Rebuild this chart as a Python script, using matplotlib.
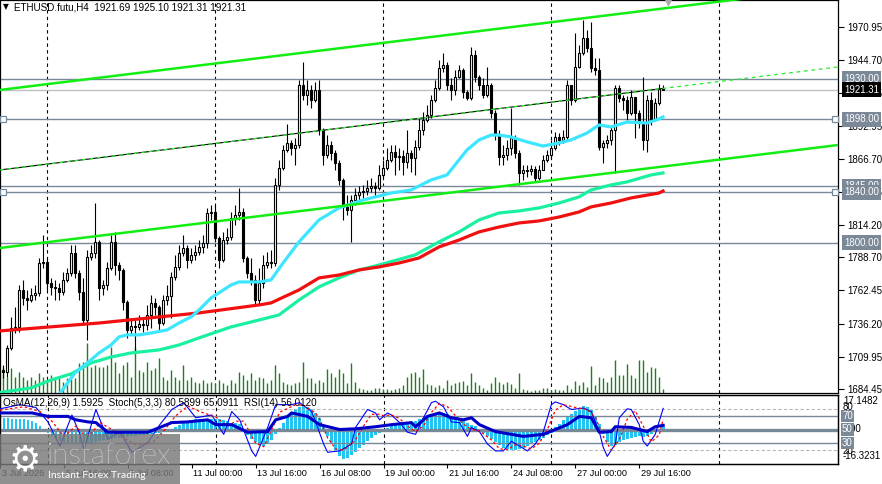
import numpy as np
import matplotlib
matplotlib.use('Agg')
import matplotlib.pyplot as plt
from matplotlib.patches import Rectangle
from matplotlib.transforms import blended_transform_factory

plt.rcParams['font.family'] = ['Liberation Sans', 'DejaVu Sans']
plt.rcParams['font.size'] = 7

# ---- price data (H4 bars, bar 0 = 3 Jul 00:00) ----
first_open = 1687.6
close = [1699.4, 1697.9, 1716.9, 1732.7, 1733.5, 1762.8, 1756.4, 1754.8, 1758.8, 1760.4,
         1784.1, 1784.9, 1768.3, 1765.2, 1764.4, 1761.2, 1770.7, 1776.2, 1792.1, 1776.2,
         1761.2, 1739.0, 1788.9, 1792.1, 1800.8, 1764.4, 1766.7, 1780.2, 1800.8, 1782.5,
         1778.6, 1753.3, 1731.1, 1734.3, 1733.5, 1735.9, 1735.1, 1743.0, 1752.5, 1749.3,
         1736.6, 1754.8, 1758.0, 1773.1, 1781.0, 1792.1, 1796.0, 1786.5, 1790.5, 1792.8,
         1796.8, 1800.0, 1823.7, 1824.5, 1804.0, 1786.5, 1802.3, 1804.7, 1819.8, 1822.1,
         1824.5, 1788.1, 1776.2, 1770.7, 1754.8, 1768.3, 1782.5, 1784.9, 1784.1, 1845.9,
         1859.3, 1873.6, 1879.1, 1875.2, 1877.5, 1925.0, 1917.1, 1921.1, 1913.2, 1921.1,
         1889.4, 1869.6, 1877.5, 1871.2, 1863.3, 1849.8, 1828.5, 1826.1, 1834.0, 1838.0,
         1840.3, 1841.1, 1843.5, 1845.1, 1843.5, 1853.8, 1859.3, 1865.7, 1872.0, 1868.0,
         1868.8, 1864.1, 1871.2, 1867.2, 1876.0, 1889.4, 1897.3, 1901.3, 1913.2, 1922.7,
         1938.5, 1940.9, 1925.0, 1921.1, 1931.3, 1936.9, 1919.5, 1914.7, 1948.8, 1931.3,
         1925.0, 1917.1, 1925.0, 1902.9, 1885.4, 1868.0, 1869.6, 1875.2, 1883.1, 1871.2,
         1855.4, 1857.8, 1857.0, 1858.5, 1851.4, 1857.8, 1865.7, 1869.6, 1875.2, 1883.9,
         1881.5, 1883.9, 1925.0, 1913.2, 1939.3, 1950.3, 1962.2, 1954.3, 1938.5, 1936.9,
         1876.0, 1879.1, 1881.5, 1889.4, 1922.7, 1914.7, 1913.2, 1902.9, 1915.5, 1902.9,
         1894.9, 1881.5, 1913.2, 1897.3, 1910.8, 1921.69, 1921.31]
high = [1711.3, 1703.4, 1719.2, 1741.4, 1749.3, 1766.7, 1770.7, 1762.8, 1764.4, 1766.7,
        1788.1, 1806.3, 1788.1, 1772.3, 1770.7, 1768.3, 1777.0, 1780.2, 1798.4, 1798.4,
        1778.6, 1772.3, 1794.4, 1798.4, 1831.6, 1802.3, 1770.7, 1784.9, 1806.3, 1808.7,
        1784.9, 1780.2, 1754.8, 1740.6, 1739.0, 1743.0, 1740.6, 1750.9, 1758.8, 1756.4,
        1750.9, 1758.8, 1766.7, 1777.0, 1790.5, 1798.4, 1806.3, 1798.4, 1796.0, 1798.4,
        1802.3, 1806.3, 1827.7, 1830.0, 1830.0, 1805.5, 1808.7, 1811.8, 1824.5, 1830.0,
        1843.5, 1827.7, 1789.7, 1788.1, 1774.6, 1780.2, 1790.5, 1792.8, 1794.4, 1851.4,
        1865.7, 1877.5, 1894.2, 1881.5, 1883.1, 1929.0, 1943.2, 1929.0, 1925.0, 1927.4,
        1929.0, 1891.0, 1885.4, 1880.7, 1873.6, 1865.7, 1851.4, 1838.0, 1838.0, 1843.5,
        1845.1, 1845.9, 1849.8, 1851.4, 1848.3, 1861.7, 1865.7, 1875.2, 1877.5, 1877.5,
        1875.2, 1873.6, 1889.4, 1873.6, 1881.5, 1898.9, 1903.7, 1909.2, 1917.1, 1929.0,
        1944.8, 1950.3, 1943.2, 1930.6, 1936.9, 1940.9, 1938.5, 1921.1, 1955.1, 1952.7,
        1932.9, 1930.6, 1939.3, 1926.6, 1905.2, 1889.4, 1877.5, 1881.5, 1906.8, 1885.4,
        1873.6, 1861.7, 1861.7, 1861.7, 1860.9, 1861.7, 1869.6, 1873.6, 1881.5, 1887.8,
        1887.0, 1889.4, 1929.0, 1917.1, 1966.2, 1956.7, 1976.5, 1968.6, 1974.9, 1946.4,
        1946.4, 1881.5, 1885.4, 1893.4, 1925.0, 1925.0, 1917.1, 1916.3, 1921.1, 1913.2,
        1905.2, 1931.3, 1917.1, 1919.5, 1914.7, 1925.8, 1925.10]
low = [1682.0, 1693.1, 1693.9, 1715.3, 1728.7, 1729.5, 1750.9, 1746.9, 1753.3, 1754.8,
       1758.0, 1780.2, 1762.8, 1758.8, 1754.8, 1754.8, 1758.8, 1769.1, 1773.9, 1772.3,
       1754.8, 1735.1, 1723.2, 1786.5, 1788.1, 1754.8, 1758.8, 1762.8, 1778.6, 1774.6,
       1770.7, 1746.9, 1724.8, 1727.2, 1712.9, 1731.1, 1729.5, 1731.1, 1732.7, 1743.0,
       1731.1, 1735.1, 1750.9, 1740.6, 1770.7, 1778.6, 1789.7, 1780.2, 1784.1, 1786.5,
       1790.5, 1792.1, 1796.0, 1818.2, 1800.8, 1780.2, 1784.9, 1799.2, 1802.3, 1814.2,
       1818.2, 1784.9, 1772.3, 1766.7, 1750.9, 1750.9, 1764.4, 1780.2, 1780.2, 1781.8,
       1841.9, 1857.8, 1872.0, 1869.6, 1861.7, 1875.2, 1913.2, 1909.2, 1906.8, 1911.6,
       1885.4, 1861.7, 1867.2, 1865.7, 1857.8, 1845.9, 1818.2, 1822.1, 1800.8, 1830.0,
       1834.0, 1835.6, 1838.0, 1840.3, 1837.2, 1841.9, 1851.4, 1857.8, 1864.1, 1853.8,
       1857.8, 1853.8, 1859.3, 1856.2, 1853.8, 1873.6, 1885.4, 1895.7, 1898.9, 1911.6,
       1921.1, 1935.3, 1921.1, 1913.2, 1917.1, 1930.6, 1914.7, 1913.2, 1913.2, 1927.4,
       1921.1, 1914.7, 1915.5, 1898.9, 1881.5, 1861.7, 1861.7, 1865.7, 1869.6, 1867.2,
       1845.9, 1849.8, 1852.2, 1853.8, 1848.3, 1849.8, 1857.8, 1864.1, 1867.2, 1873.6,
       1877.5, 1879.1, 1881.5, 1909.2, 1911.6, 1938.5, 1948.8, 1951.1, 1935.3, 1932.9,
       1873.6, 1863.3, 1875.2, 1877.5, 1855.4, 1911.6, 1905.2, 1897.3, 1901.3, 1883.1,
       1891.0, 1873.6, 1872.0, 1893.4, 1898.9, 1909.2, 1921.31]
volume = [2000, 2600, 1600, 2500, 1600, 2100, 1600, 1300, 1600, 1300,
          2000, 1600, 1300, 1800, 1500, 1600, 1100, 1500, 2100, 1500,
          3000, 3100, 5000, 2600, 2800, 2600, 2600, 2800, 4600, 3100,
          2000, 2800, 3100, 1600, 4600, 2300, 2100, 3100, 2300, 2500,
          3500, 1600, 1300, 2300, 1600, 1300, 2800, 1300, 1600, 1100,
          1000, 1300, 1000, 1100, 1000, 1300, 1000, 800, 1300, 1000,
          2100, 1800, 1300, 2000, 1300, 1600, 1500, 1000, 1300, 2800,
          2000, 1100, 900, 800, 1000, 1100, 3100, 1500, 1500, 1000,
          1300, 1100, 2400, 2000, 1600, 2400, 2000, 1000, 3000, 1100,
          500, 400, 300, 300, 500, 500, 400, 400, 300, 400,
          500, 800, 1600, 2000, 2100, 1600, 2400, 900, 800, 600,
          800, 500, 1300, 800, 1000, 1100, 1200, 800, 2000, 1100,
          800, 500, 300, 1000, 1600, 1100, 900, 1100, 900, 500,
          2000, 400, 300, 200, 300, 300, 500, 500, 300, 400,
          300, 300, 800, 400, 1200, 800, 1100, 600, 2700, 800,
          1600, 1500, 1100, 1600, 3300, 1800, 1800, 2900, 1800, 1500,
          3300, 3300, 2100, 2600, 2500, 1600, 400]

# moving averages (node bars and values)
cyan_bars = [15, 19, 23, 25, 28, 30, 32, 35, 38, 42, 45, 48, 50, 53, 58, 60, 65, 68, 71, 75,
             80, 85, 91, 98, 103, 108, 112, 117, 120, 123, 125, 128, 132, 136, 140, 143, 147,
             150, 153, 157, 162, 165, 166]
cyan_vals = [1680.0, 1697.1, 1707.4, 1712.9, 1719.2, 1725.6, 1727.2, 1727.2, 1728.7, 1731.1,
             1736.6, 1741.4, 1746.9, 1756.4, 1766.7, 1769.1, 1769.1, 1770.7, 1784.1, 1800.8,
             1818.2, 1827.7, 1834.0, 1839.5, 1841.9, 1849.8, 1853.8, 1873.6, 1881.5, 1885.4,
             1885.4, 1883.9, 1880.0, 1876.7, 1879.1, 1881.5, 1887.0, 1893.4, 1891.8, 1895.7,
             1894.9, 1898.1, 1899.7]
teal_bars = [0, 8, 13, 18, 23, 28, 33, 40, 45, 50, 58, 63, 70, 75, 80, 85, 90, 95, 104, 110,
             115, 120, 125, 130, 135, 140, 145, 148, 153, 157, 163, 166]
teal_vals = [1681.5, 1685.2, 1691.5, 1696.3, 1705.0, 1709.7, 1712.9, 1715.3, 1719.2, 1724.8,
             1733.5, 1737.4, 1743.0, 1754.8, 1765.2, 1772.3, 1778.6, 1782.5, 1790.5, 1800.8,
             1808.7, 1818.2, 1823.7, 1825.3, 1827.7, 1831.6, 1836.4, 1841.9, 1845.9, 1848.3,
             1853.8, 1855.4]
red_bars = [0, 25, 50, 65, 68, 75, 80, 85, 90, 95, 100, 105, 110, 115, 120, 125, 130, 135,
            140, 145, 148, 153, 158, 165, 166]
red_vals = [1730.3, 1736.6, 1744.6, 1750.9, 1752.5, 1762.8, 1772.3, 1774.6, 1778.6, 1781.0,
            1784.1, 1788.1, 1796.8, 1802.3, 1808.7, 1812.6, 1815.8, 1817.4, 1820.5, 1824.5,
            1828.5, 1831.6, 1835.6, 1839.5, 1841.1]

# channel (two anchor points each)
channel_bars = [0.25, 209.75]
channel_upper = [1921.1, 2002.6]
channel_mid = [1857.8, 1939.3]
channel_lower = [1796.0, 1877.5]

levels = [1930.0, 1898.0, 1845.0, 1840.0, 1800.0]
marked_levels = [1898.0, 1840.0]
last_price = 1921.31
price_ticks = [1970.95, 1944.70, 1918.45, 1892.95, 1866.70, 1840.45, 1814.20,
               1788.70, 1762.45, 1736.20, 1709.95, 1684.45]

sep_bars = [12, 54, 96, 138, 180]
time_bars = [0, 16, 32, 48, 64, 80, 96, 112, 128, 144, 160]
time_labels = ['3 Jul 2026', '5 Jul 16:00', '8 Jul 08:00', '11 Jul 00:00', '13 Jul 16:00',
               '16 Jul 08:00', '19 Jul 00:00', '21 Jul 16:00', '24 Jul 08:00',
               '27 Jul 00:00', '29 Jul 16:00']

# ---- indicators ----
osma = [5.7, 6.2, 6.2, 5.7, 5.7, 5.3, 5.3, 4.8, 4.3, 3.4, 1.9, 0.5,
        -1.4, -2.9, -4.3, -5.3, -5.7, -6.2, -6.7, -6.7, -6.2, -6.2, -6.7, -6.2, -5.7, -5.3,
        -4.8, -4.8, -4.3, -3.8, -3.8, -3.4, -3.4, -2.9, -2.9, -2.4, -2.4, -1.9, -1.9, -1.4,
        -1.4, -1.0, -0.5,
        0.5, 1.4, 2.4, 3.4, 4.3, 4.8, 5.3, 5.7, 5.7, 5.7, 5.7, 5.7, 5.3, 4.8, 4.3, 3.8, 3.4, 2.9,
        -1.0, -2.4, -4.3, -5.7, -7.2, -7.7, -6.7, -4.8,
        -1.9, 1.0, 3.8, 6.7, 9.1, 10.5, 11.5, 12.0, 11.5, 10.5, 8.6, 6.2,
        1.9,
        -2.9, -6.7, -10.0, -12.4, -13.9, -13.4, -12.0, -10.5, -8.6, -7.2, -5.3, -3.8, -2.4,
        -1.4, -0.5,
        1.0, 1.9, 2.4, 2.9, 3.4, 3.4, 3.8, 4.3, 5.3, 6.2, 7.2, 8.1, 8.6, 9.1, 8.6, 7.7,
        6.7, 5.7, 4.8, 4.3, 3.4, 2.4, 1.9,
        -0.5, -1.4, -2.9, -4.3, -5.7, -7.2, -8.6, -9.1, -9.6, -9.6, -9.1, -8.6, -7.7, -6.7,
        -5.7, -4.8, -3.8, -2.4, -1.4,
        1.4, 2.9, 4.8, 6.7, 8.1, 9.6, 11.0, 12.0, 11.5, 10.0, 7.2,
        2.9, -1.9, -5.7, -7.7, -7.2, -5.7, -4.8, -4.3, -3.8, -3.4, -2.9, -3.4, -2.9, -1.9,
        -1.0, 0.5, 1.59]
osma_min, osma_max = -16.3231, 17.1482

stoch_bars = [0, 5, 9, 12, 15, 18, 20, 21, 24, 27, 30, 33, 37, 40, 43, 46, 49, 53, 56, 58,
              60, 63, 64, 67, 69, 73, 75, 78, 79, 81, 82, 85, 88, 89, 92, 94, 95, 97, 98, 100,
              102, 104, 106, 108, 109, 111, 113, 115, 117, 118, 120, 122, 124, 126, 128, 130,
              132, 134, 136, 138, 139, 141, 143, 146, 148, 150, 151, 152, 154, 155, 157, 158,
              160, 161, 162, 164, 166]
stoch_vals = [80, 86, 82, 61, 26, 71, 43, 21, 79, 36, 47, 17, 31, 57, 79, 89, 67, 71, 43, 76,
              64, 19, 11, 53, 86, 86, 89, 76, 61, 29, 17, 19, 29, 53, 79, 74, 64, 74, 71, 60,
              46, 43, 67, 89, 91, 83, 61, 60, 40, 53, 47, 29, 19, 19, 33, 26, 19, 29, 47, 86,
              90, 86, 79, 81, 76, 47, 24, 11, 29, 67, 80, 79, 57, 33, 26, 43, 80.59]
signal_bars = [0, 6, 10, 13, 16, 19, 21, 23, 25, 28, 31, 34, 38, 41, 44, 47, 50, 54, 57, 59,
               61, 64, 66, 68, 70, 74, 76, 79, 80, 82, 84, 86, 89, 91, 93, 95, 96, 98, 100, 102,
               104, 106, 108, 110, 112, 114, 116, 118, 120, 123, 125, 127, 129, 131, 133, 135,
               137, 139, 141, 144, 147, 149, 151, 153, 155, 157, 159, 161, 163, 165, 166]
signal_vals = [78, 83, 76, 62, 40, 55, 42, 45, 60, 50, 38, 28, 30, 48, 70, 84, 76, 68, 55, 62,
               62, 30, 25, 50, 75, 86, 85, 74, 65, 38, 22, 20, 35, 55, 72, 72, 70, 71, 66, 55,
               47, 55, 75, 88, 83, 70, 58, 50, 48, 35, 22, 21, 28, 26, 22, 30, 50, 78, 86, 82,
               79, 68, 40, 20, 35, 65, 77, 55, 32, 42, 65.09]
rsi_bars = [0, 8, 12, 17, 19, 22, 24, 27, 37, 40, 43, 47, 52, 54, 58, 62, 67, 69, 72, 73,
            77, 80, 85, 89, 94, 98, 103, 104, 107, 110, 113, 116, 118, 120, 124, 128, 131, 136,
            139, 142, 145, 148, 150, 153, 154, 158, 162, 164, 166]
rsi_vals = [74, 74, 69, 69, 64, 61, 60, 46, 46, 53, 60, 61, 64, 57, 57, 46, 47, 64, 69, 74,
            69, 57, 50, 51, 54, 57, 60, 54, 69, 74, 67, 64, 67, 57, 47, 43, 40, 43, 50, 57,
            69, 67, 46, 47, 54, 53, 47, 54, 56.01]

# ---- layout (pixel boxes, origin top-left) ----
W, H = 882, 484


def fig_box(x0, y0, x1, y1):
    return [x0 / W, 1 - y1 / H, (x1 - x0) / W, (y1 - y0) / H]


def fx(x):
    return x / W


def fy(y):
    return 1 - y / H


fig = plt.figure(figsize=(W / 100, H / 100), dpi=100)
fig.patch.set_facecolor('white')
ax = fig.add_axes(fig_box(0, 0, 838, 393))
ax_ind = fig.add_axes(fig_box(0, 395, 838, 464))
ax_sr = ax_ind.twinx()

xlim = (0.25, 209.75)
for a in (ax, ax_ind, ax_sr):
    a.set_xlim(*xlim)
    for sp in a.spines.values():
        sp.set_linewidth(0.9)
ax.set_ylim(1681.2, 1992.3)
ax_ind.set_ylim(osma_min, osma_max)
ax_sr.set_ylim(0, 100)

bars = np.arange(len(close))
close = np.array(close)
opens = np.r_[first_open, close[:-1]]
high = np.maximum(np.array(high), np.maximum(opens, close))
low = np.minimum(np.array(low), np.minimum(opens, close))

# weekly separators
for b in sep_bars:
    ax.axvline(b, color='black', lw=0.8, ls=(0, (3, 3)), zorder=1)
    ax_sr.axvline(b, color='black', lw=0.8, ls=(0, (3, 3)), zorder=1)

# horizontal levels
for lvl in levels:
    ax.axhline(lvl, color='#778899', lw=1.0, zorder=1)
ax.axhline(last_price, color='#c0c0c0', lw=1.0, zorder=1)

# tick volume at the bottom of the price window
ax.vlines(bars, 0, np.array(volume) / 39300, transform=ax.get_xaxis_transform(),
          color='#1f7f1f', lw=1.0, zorder=1.2)

# candles
ax.vlines(bars, low, high, color='black', lw=0.8, zorder=3)
body_lo = np.minimum(opens, close)
body_h = np.maximum(np.abs(close - opens), 0.5)
up = close >= opens
ax.bar(bars[up], body_h[up], bottom=body_lo[up], width=0.5, color='white',
       edgecolor='black', linewidth=0.8, zorder=4)
ax.bar(bars[~up], body_h[~up], bottom=body_lo[~up], width=0.5, color='black',
       edgecolor='black', linewidth=0.8, zorder=4)

# moving averages
ax.plot(teal_bars, teal_vals, color='#19f0a0', lw=2.3, zorder=5)
ax.plot(red_bars, red_vals, color='#f01010', lw=2.3, zorder=5)
ax.plot(cyan_bars, cyan_vals, color='#3ce6ff', lw=2.3, zorder=5)

# channel
ax.plot(channel_bars, channel_upper, color='#11ee11', lw=1.8, zorder=6)
ax.plot(channel_bars, channel_lower, color='#11ee11', lw=1.8, zorder=6)
mid_end = np.interp(bars[-1], channel_bars, channel_mid)
ax.plot([channel_bars[0], bars[-1]], [channel_mid[0], mid_end], color='black', lw=0.8, zorder=6)
ax.plot(channel_bars, channel_mid, color='#22ee22', lw=0.9, ls=(0, (3, 3)), zorder=6.1)

# level markers and chart-shift arrow
for lvl in marked_levels:
    ax.plot([0.9, 209.1], [lvl, lvl], ls='none', marker='s', ms=3.8, mfc='white',
            mec='#778899', mew=0.9, zorder=7, clip_on=False)
ax.plot([167.25], [1992.3], marker='v', ms=7, color='#a8a8a8', zorder=7, clip_on=False)

# price axis
ax.set_xticks([])
ax.yaxis.tick_right()
ax.set_yticks(price_ticks)
ax.set_yticklabels([f'{v:.2f}' for v in price_ticks])
ax.tick_params(axis='y', length=4, width=0.8, pad=3, labelsize=7)

yt = ax.get_yaxis_transform()
for lvl in levels:
    ax.text(1 + 6 / 838, lvl, f'{lvl:.2f}', transform=yt, ha='left', va='center',
            color='white', fontsize=7, zorder=10, clip_on=False,
            bbox=dict(boxstyle='square,pad=0.25', fc='#7a8898', ec='none'))
ax.text(1 + 6 / 838, last_price, f'{last_price:.2f}', transform=yt, ha='left', va='center',
        color='white', fontsize=7, zorder=11, clip_on=False,
        bbox=dict(boxstyle='square,pad=0.25', fc='black', ec='none'))

# ---- indicator window ----
ax_ind.bar(bars, osma, width=0.7, color='#22c4f2', zorder=2)
ax_ind.set_yticks([])
ax_ind.set_xticks(time_bars)
ax_ind.tick_params(axis='x', length=3, width=0.8, labelbottom=False)

for lvl in (80, 20):
    ax_sr.axhline(lvl, color='#b8b8b8', lw=0.8, ls=(0, (3, 2)), zorder=1)
for lvl in (70, 30):
    ax_sr.axhline(lvl, color='#778899', lw=1.0, zorder=1)
ax_sr.axhline(50, color='#778899', lw=2.4, zorder=1)
ax_sr.plot(stoch_bars, stoch_vals, color='#0000ff', lw=0.8, zorder=4)
ax_sr.plot(signal_bars, signal_vals, color='#ff0000', lw=0.9, ls=(0, (2, 2)), zorder=4)
ax_sr.plot(rsi_bars, rsi_vals, color='#0000c8', lw=2.2, zorder=5)
ax_sr.set_yticks([])

ryt = ax_sr.get_yaxis_transform()
ax_sr.text(1 + 5 / 838, 50, '0.00', transform=ryt, ha='left', va='center', fontsize=7,
           clip_on=False)
for lvl in (70, 50, 30):
    ax_sr.text(1 + 4 / 838, lvl, f'{lvl}', transform=ryt, ha='left', va='center', color='white',
               fontsize=7, zorder=10, clip_on=False,
               bbox=dict(boxstyle='square,pad=0.12', fc='#7a8898', ec='none'))
ax_sr.text(1 + 5 / 838, 83, '80', transform=ryt, ha='left', va='center', fontsize=7, clip_on=False)
ax_sr.text(1 + 5 / 838, 19, '20', transform=ryt, ha='left', va='center', fontsize=7, clip_on=False)
ax_sr.text(1 + 5 / 838, 91, f'{osma_max:.4f}', transform=ryt, ha='left', va='center',
           fontsize=7, clip_on=False)
ax_sr.text(1 + 5 / 838, 11, f'{osma_min:.4f}', transform=ryt, ha='left', va='center',
           fontsize=7, clip_on=False)

# time labels
tt = blended_transform_factory(ax_ind.transData, fig.transFigure)
for b, lab in zip(time_bars, time_labels):
    ax_ind.text(b + 0.4, fy(473), lab, transform=tt, ha='left', va='center',
                fontsize=6.6, clip_on=False)

# headers
fig.text(fx(3), fy(7), '\u25bc', fontsize=5.5, va='center', family='DejaVu Sans')
fig.text(fx(14), fy(7), 'ETHUSD.futu,H4  1921.69 1925.10 1921.31 1921.31', fontsize=7.1, va='center')
fig.text(fx(3), fy(403), 'OsMA(12,26,9) 1.5925  Stoch(5,3,3) 80.5899 65.0911  RSI(14) 56.0120',
         fontsize=7.1, va='center')

# watermark
fig.patches.append(Rectangle((0, 0), fx(180), 50 / H, transform=fig.transFigure,
                             fc='#787878', ec='none', alpha=0.82, zorder=20))
fig.text(fx(25), fy(460), '\u2699', fontsize=26, color='white', ha='center', va='center',
         family='DejaVu Sans', zorder=21)
fig.text(fx(47), fy(456), 'instaforex', fontsize=21.5, color='white', ha='left', va='center',
         family='Lato', weight='light', zorder=21)
fig.text(fx(48), fy(475), 'Instant Forex Trading', fontsize=7.5, color='white', ha='left',
         va='center', family='Lato', zorder=21)

fig.savefig('out.png', dpi=100)
